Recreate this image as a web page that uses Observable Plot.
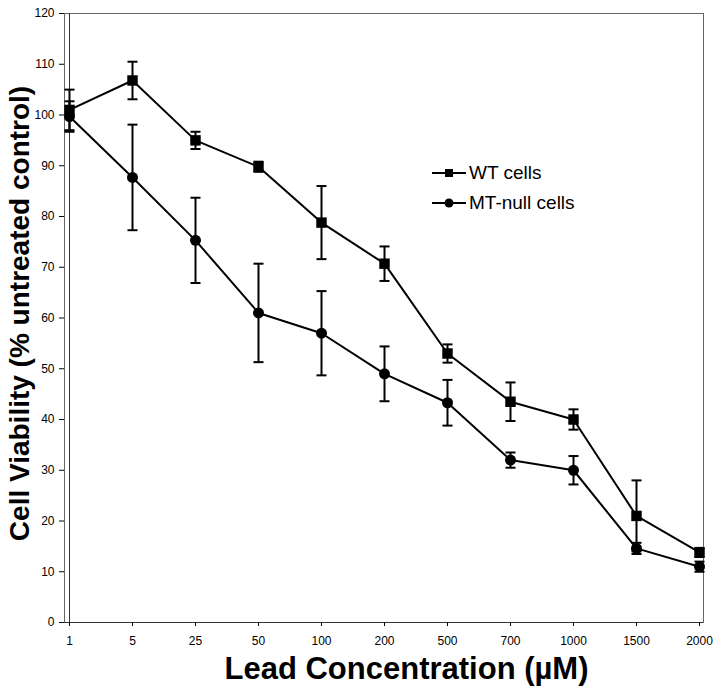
<!DOCTYPE html>
<html>
<head>
<meta charset="utf-8">
<script src="https://cdn.jsdelivr.net/npm/d3@7"></script>
<script src="https://cdn.jsdelivr.net/npm/@observablehq/plot@0.6"></script>
<style>
  html, body { margin: 0; padding: 0; background: #fff; }
  #wrap { position: relative; width: 720px; height: 697px; font-family: "Liberation Sans", Arial, sans-serif; }
  .leg { position: absolute; left: 432px; display: flex; align-items: center; height: 30px; font-size: 19px; color: #000; }
  .leg svg { margin-right: 3px; }
</style>
</head>
<body>
<div id="wrap"></div>
<script>
const concentrations = ["1", "5", "25", "50", "100", "200", "500", "700", "1000", "1500", "2000"];
const wtMean = [101, 106.8, 95, 89.8, 78.8, 70.7, 53, 43.5, 40, 21, 13.8];
const wtErr  = [4, 3.7, 1.7, 1.0, 7.2, 3.4, 1.8, 3.8, 2, 7, 0.9];
const mtMean = [99.7, 87.7, 75.3, 61, 57, 49, 43.3, 32, 30, 14.6, 11];
const mtErr  = [3, 10.4, 8.4, 9.7, 8.3, 5.4, 4.5, 1.5, 2.8, 1.1, 1.0];
const yTicks = [0, 10, 20, 30, 40, 50, 60, 70, 80, 90, 100, 110, 120];
const seriesNames = ["WT cells", "MT-null cells"];
const xTitle = "Lead Concentration (\u00B5M)";
const yTitle = "Cell Viability (% untreated control)";

const wt = concentrations.map((c, i) => ({c, v: wtMean[i], lo: wtMean[i] - wtErr[i], hi: wtMean[i] + wtErr[i]}));
const mt = concentrations.map((c, i) => ({c, v: mtMean[i], lo: mtMean[i] - mtErr[i], hi: mtMean[i] + mtErr[i]}));

// horizontal cap symbol for error bars
const capSymbol = {
  draw(context, size) {
    const r = Math.sqrt(size / Math.PI);
    context.moveTo(-r, 0);
    context.lineTo(r, 0);
  }
};

function errorMarks(data) {
  return [
    Plot.ruleX(data, {x: "c", y1: "lo", y2: "hi", stroke: "#000", strokeWidth: 2}),
    Plot.dot(data, {x: "c", y: "lo", symbol: capSymbol, r: 5, stroke: "#000", strokeWidth: 2, fill: "none"}),
    Plot.dot(data, {x: "c", y: "hi", symbol: capSymbol, r: 5, stroke: "#000", strokeWidth: 2, fill: "none"})
  ];
}

const chart = Plot.plot({
  width: 720,
  height: 697,
  marginLeft: 64,
  marginRight: 17,
  marginTop: 13,
  marginBottom: 75,
  style: {fontFamily: "'Liberation Sans', Arial, sans-serif", fontSize: "12px", background: "#fff", color: "#000"},
  x: {type: "point", domain: concentrations, padding: 0, label: null},
  y: {domain: [0, 120], label: null},
  marks: [
    Plot.frame({stroke: "#666", strokeWidth: 1}),
    Plot.ruleY([0], {stroke: "#333", strokeWidth: 1}),
    Plot.ruleX([concentrations[0]], {stroke: "#333", strokeWidth: 1}),
    Plot.axisY({ticks: yTicks, tickSize: 5, tickPadding: 5, label: null, fontSize: 12}),
    Plot.axisX({tickSize: 4, tickPadding: 10, label: null, fontSize: 12}),
    Plot.line(wt, {x: "c", y: "v", stroke: "#000", strokeWidth: 2}),
    Plot.line(mt, {x: "c", y: "v", stroke: "#000", strokeWidth: 2}),
    ...errorMarks(wt),
    ...errorMarks(mt),
    Plot.dot(wt, {x: "c", y: "v", symbol: "square", r: 5.9, fill: "#000", stroke: "none"}),
    Plot.dot(mt, {x: "c", y: "v", symbol: "circle", r: 5.5, fill: "#000", stroke: "none"}),
    Plot.text([yTitle], {text: d => d, frameAnchor: "left", textAnchor: "middle", rotate: -90, dx: -44.5, dy: -4.5, fontSize: 28, fontWeight: "bold", fill: "#000"}),
    Plot.text([xTitle], {text: d => d, frameAnchor: "bottom", dx: 22.5, dy: 56, fontSize: 31, fontWeight: "bold", fill: "#000"})
  ]
});

const wrap = document.getElementById("wrap");
wrap.appendChild(chart);

const symbols = [
  '<rect x="13" y="6" width="8" height="8" fill="#000"/>',
  '<circle cx="17" cy="10" r="4.5" fill="#000"/>'
];
const legendTops = [158, 188];
seriesNames.forEach((name, i) => {
  const row = document.createElement("div");
  row.className = "leg";
  row.style.top = legendTops[i] + "px";
  row.innerHTML = `<svg width="34" height="20"><line x1="0" y1="10" x2="34" y2="10" stroke="#000" stroke-width="2"/>${symbols[i]}</svg><span>${name}</span>`;
  wrap.appendChild(row);
});
</script>
</body>
</html>
